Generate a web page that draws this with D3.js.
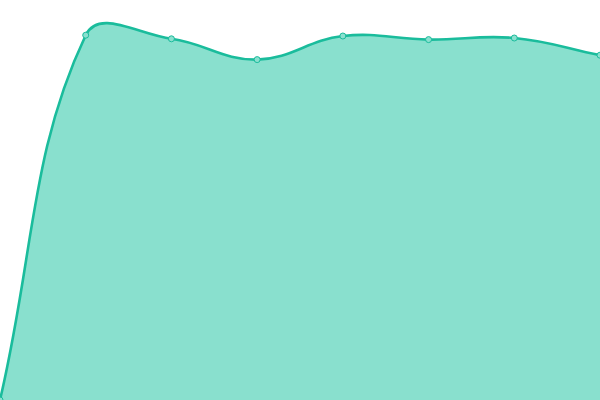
<!DOCTYPE html>
<html>
<head>
<meta charset="utf-8">
<script src="https://cdn.jsdelivr.net/npm/d3@7"></script>
<style>
html,body{margin:0;padding:0;background:#fff;overflow:hidden;}
svg{display:block;}
</style>
</head>
<body>
<svg id="chart" width="600" height="400"></svg>
<script>
const categories = ["1","2","3","4","5","6","7","8"];
const values = [0, 91.2, 90.3, 85.1, 91.0, 90.1, 90.5, 86.2];

const W = 600, H = 400;
const svg = d3.select("#chart");
const x = d3.scalePoint().domain(categories).range([0, W]);
const y = d3.scaleLinear().domain([0, 100]).range([H, 0]);

// Chart.js-style spline (tension 0.4, distance weighted)
function splineCurve(tension) {
  function Curve(ctx){ this._context = ctx; }
  Curve.prototype = {
    areaStart(){ this._line = 0; },
    areaEnd(){ this._line = NaN; },
    lineStart(){ this._pts = []; },
    point(px, py){ this._pts.push([+px, +py]); },
    lineEnd(){
      const p = this._pts, n = p.length, c = this._context;
      if (n) {
        if (this._line) c.lineTo(p[0][0], p[0][1]); else c.moveTo(p[0][0], p[0][1]);
        const cpPrev = [], cpNext = [];
        for (let i = 0; i < n; i++) {
          const prev = p[Math.max(0, i-1)], cur = p[i], next = p[Math.min(n-1, i+1)];
          const d01 = Math.hypot(cur[0]-prev[0], cur[1]-prev[1]);
          const d12 = Math.hypot(next[0]-cur[0], next[1]-cur[1]);
          let s01 = d01/(d01+d12), s12 = d12/(d01+d12);
          if (!isFinite(s01)) s01 = 0; if (!isFinite(s12)) s12 = 0;
          const fa = tension*s01, fb = tension*s12;
          cpPrev[i] = [cur[0] - fa*(next[0]-prev[0]), cur[1] - fa*(next[1]-prev[1])];
          cpNext[i] = [cur[0] + fb*(next[0]-prev[0]), cur[1] + fb*(next[1]-prev[1])];
        }
        for (let i = 1; i < n; i++) {
          c.bezierCurveTo(cpNext[i-1][0], cpNext[i-1][1], cpPrev[i][0], cpPrev[i][1], p[i][0], p[i][1]);
        }
      }
      if (this._line || (this._line !== 0 && n === 1)) c.closePath();
      this._line = 1 - this._line;
    }
  };
  return ctx => new Curve(ctx);
}
const curve = splineCurve(0.4);

const data = categories.map((c, i) => ({c, v: values[i]}));

const area = d3.area().x(d => x(d.c)).y0(y(0)).y1(d => y(d.v)).curve(curve);
const line = d3.line().x(d => x(d.c)).y(d => y(d.v)).curve(curve);

svg.append("path").datum(data).attr("d", area)
  .attr("fill", "#89e0ce").attr("stroke", "none");
svg.append("path").datum(data).attr("d", line)
  .attr("fill", "none").attr("stroke", "#1abc9c").attr("stroke-width", 2.6);
svg.append("g").selectAll("circle").data(data).join("circle")
  .attr("cx", d => x(d.c)).attr("cy", d => y(d.v)).attr("r", 3)
  .attr("fill", "#8ae0cf").attr("stroke", "#1abc9c").attr("stroke-width", 1);
</script>
</body>
</html>
